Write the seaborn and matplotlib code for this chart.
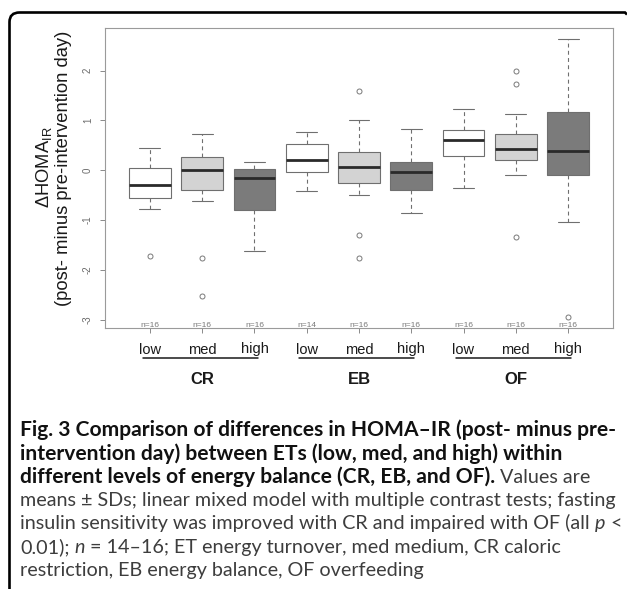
import numpy as np
import pandas as pd
import matplotlib
matplotlib.use("Agg")
import matplotlib.pyplot as plt
import matplotlib.transforms as mtransforms
from matplotlib.path import Path
from matplotlib.patches import PathPatch
from matplotlib.lines import Line2D
import seaborn as sns

# ---------------- data ----------------
groups = ["CR", "CR", "CR", "EB", "EB", "EB", "OF", "OF", "OF"]
levels = ["low", "med", "high", "low", "med", "high", "low", "med", "high"]
n_counts = [16, 16, 16, 14, 16, 16, 16, 16, 16]
whisker_low = [-0.78, -0.61, -1.61, -0.42, -0.49, -0.85, -0.35, -0.10, -1.04]
q1 = [-0.56, -0.40, -0.80, -0.03, -0.25, -0.40, 0.28, 0.20, -0.09]
median = [-0.29, 0.00, -0.16, 0.20, 0.07, -0.04, 0.60, 0.42, 0.38]
q3 = [0.05, 0.26, 0.03, 0.52, 0.37, 0.17, 0.80, 0.72, 1.16]
whisker_high = [0.45, 0.72, 0.16, 0.77, 1.00, 0.82, 1.23, 1.13, 2.63]
outliers = [[-1.71], [-1.76, -2.52], [], [], [1.58, -1.29, -1.76],
            [], [], [1.99, 1.72, -1.33], [-2.94]]
y_ticks = [-3, -2, -1, 0, 1, 2]
y_tick_labels = ["-3", "-2", "-1", "0", "1", "2"]
ylabel_line1 = r"ΔHOMA$_{\mathrm{IR}}$"
ylabel_line2 = "(post- minus pre-intervention day)"
level_colors = {"low": "#ffffff", "med": "#d3d3d3", "high": "#7b7b7b"}

# expand each five-number summary into a sample whose quartiles,
# whiskers and outliers reproduce exactly the values read above
rows = []
box_ids = [f"{g}-{l}" for g, l in zip(groups, levels)]
for i, bid in enumerate(box_ids):
    sample = (list(outliers[i]) + [whisker_low[i]] + [q1[i]] * 20 +
              [median[i]] * 20 + [q3[i]] * 20 + [whisker_high[i]])
    for v in sample:
        rows.append({"box": bid, "level": levels[i], "value": v})
df = pd.DataFrame(rows)

# ---------------- figure ----------------
W, H = 627, 589
sns.set_style("white")
plt.rcParams["font.family"] = ["Liberation Sans", "DejaVu Sans"]
plt.rcParams["mathtext.fontset"] = "custom"
plt.rcParams["mathtext.rm"] = "Liberation Sans"
plt.rcParams["mathtext.it"] = "Liberation Sans:italic"

fig = plt.figure(figsize=(W / 100, H / 100), dpi=100)
fig.patch.set_facecolor("white")

def fy(py):
    return 1 - py / H

ax_left, ax_right, ax_top, ax_bottom = 105, 613, 28, 328
ax = fig.add_axes([ax_left / W, fy(ax_bottom), (ax_right - ax_left) / W,
                   (ax_bottom - ax_top) / H])

sns.boxplot(data=df, x="box", y="value", hue="level", order=box_ids,
            hue_order=["low", "med", "high"], palette=level_colors,
            dodge=False, width=0.8, saturation=1, whis=1.5,
            linecolor="#6f6f6f", linewidth=0.8, fliersize=3.6,
            legend=False, ax=ax,
            medianprops=dict(color="#2a2a2a", linewidth=2.0),
            whiskerprops=dict(linestyle=(0, (3.5, 3.0)), color="#6f6f6f"),
            capprops=dict(color="#6f6f6f"),
            flierprops=dict(marker="o", markerfacecolor="none",
                            markeredgecolor="#7a7a7a", markeredgewidth=0.7))

ax.set_xlim(-0.86, 8.86)
ax.set_ylim(-3.163, 2.853)
ax.set_xlabel("")
ax.set_ylabel("")
for sp in ax.spines.values():
    sp.set_visible(True)
    sp.set_color("#9a9a9a")
    sp.set_linewidth(0.8)

ax.set_yticks(y_ticks)
ax.set_yticklabels(y_tick_labels)
ax.tick_params(axis="y", left=True, length=3.6, width=0.7, color="#8a8a8a",
               labelsize=7, labelcolor="#6a6a6a", labelrotation=90, pad=5)
for lab in ax.get_yticklabels():
    lab.set_va("center")
    lab.set_ha("right")
ax.set_xticks(range(len(box_ids)))
ax.set_xticklabels([""] * len(box_ids))
ax.tick_params(axis="x", bottom=True, length=3.6, width=0.7, color="#8a8a8a")

# n= labels sitting on the bottom axis
for i, n in enumerate(n_counts):
    ax.text(i, 0.004, f"n={n}", transform=ax.get_xaxis_transform(),
            ha="center", va="baseline", fontsize=6, color="#7a7a7a")

# level labels, group lines, group names
bt = mtransforms.blended_transform_factory(ax.transData, fig.transFigure)
for i, lv in enumerate(levels):
    ax.text(i, fy(353.5), lv, transform=bt, ha="center", va="baseline",
            fontsize=10.5, color="#1a1a1a", clip_on=False)
group_names = list(dict.fromkeys(groups))
for g in group_names:
    idx = [i for i, gg in enumerate(groups) if gg == g]
    line = Line2D([idx[0] - 0.14, idx[-1] + 0.06], [fy(358), fy(358)],
                  transform=bt, color="#1a1a1a", lw=1.1, clip_on=False)
    ax.add_line(line)
    ax.text(np.mean(idx), fy(379), g, transform=bt, ha="center",
            va="center", fontsize=12, fontweight="bold", color="#1a1a1a",
            clip_on=False)

# y axis title (two lines)
fig.text(44 / W, fy(167), ylabel_line1, rotation=90, ha="center",
         va="center", fontsize=13.2, color="#1a1a1a")
fig.text(63.5 / W, fy(168), ylabel_line2, rotation=90, ha="center",
         va="center", fontsize=13.2, color="#1a1a1a")

# rounded callout frame (left + top)
to_fig = mtransforms.Affine2D().scale(1 / W, -1 / H).translate(0, 1) + fig.transFigure
verts = [(9.5, 592), (9.5, 22), (9.5, 12.5), (19.5, 12.5), (625, 12.5), (627, 14.5)]
codes = [Path.MOVETO, Path.LINETO, Path.CURVE3, Path.CURVE3, Path.LINETO, Path.LINETO]
fig.patches.append(PathPatch(Path(verts, codes), transform=to_fig,
                             facecolor="none", edgecolor="black", lw=1.9))

# ---------------- caption ----------------
renderer = fig.canvas.get_renderer()
CAP_FONT = ["Lato", "DejaVu Sans"]

def measure(txt, size, weight="normal", style="normal"):
    t = fig.text(0, 0, txt, fontsize=size, fontweight=weight, fontstyle=style,
                 family=CAP_FONT)
    w = t.get_window_extent(renderer).width
    t.remove()
    return w

line1 = "Fig. 3 Comparison of differences in HOMA–IR (post- minus pre-"
line4 = "means ± SDs; linear mixed model with multiple contrast tests; fasting"
bold_size = 12 * 592 / measure(line1, 12, "bold")
reg_size = 12 * 593 / measure(line4, 12)

def space_w(size, weight, style):
    return measure("a a", size, weight, style) - measure("aa", size, weight, style)

def draw_line(y_base, segs, x0=20):
    x = x0
    for txt, weight, style in segs:
        size = bold_size if weight == "bold" else reg_size
        color = "#111111" if weight == "bold" else "#3d3d3d"
        sw = space_w(size, weight, style)
        lead = len(txt) - len(txt.lstrip(" "))
        trail = len(txt) - len(txt.rstrip(" "))
        core = txt.strip(" ")
        x += lead * sw
        t = fig.text(x / W, fy(y_base), core, fontsize=size, fontweight=weight,
                     fontstyle=style, family=CAP_FONT, color=color,
                     ha="left", va="baseline")
        x += t.get_window_extent(renderer).width + trail * sw

B, R, I = "bold", "normal", "italic"
caption = [
    [(line1, B, "normal")],
    [("intervention day) between ETs (low, med, and high) within", B, "normal")],
    [("different levels of energy balance (CR, EB, and OF).", B, "normal"),
     (" Values are", R, "normal")],
    [(line4, R, "normal")],
    [("insulin sensitivity was improved with CR and impaired with OF (all ", R, "normal"),
     ("p", R, I), (" <", R, "normal")],
    [("0.01); ", R, "normal"), ("n", R, I),
     (" = 14–16; ET energy turnover, med medium, CR caloric", R, "normal")],
    [("restriction, EB energy balance, OF overfeeding", R, "normal")],
]
baselines = [436, 459.5, 483, 506, 529.5, 553, 576]
for yb, segs in zip(baselines, caption):
    draw_line(yb, segs)

fig.savefig("out.png", dpi=100, facecolor="white")
